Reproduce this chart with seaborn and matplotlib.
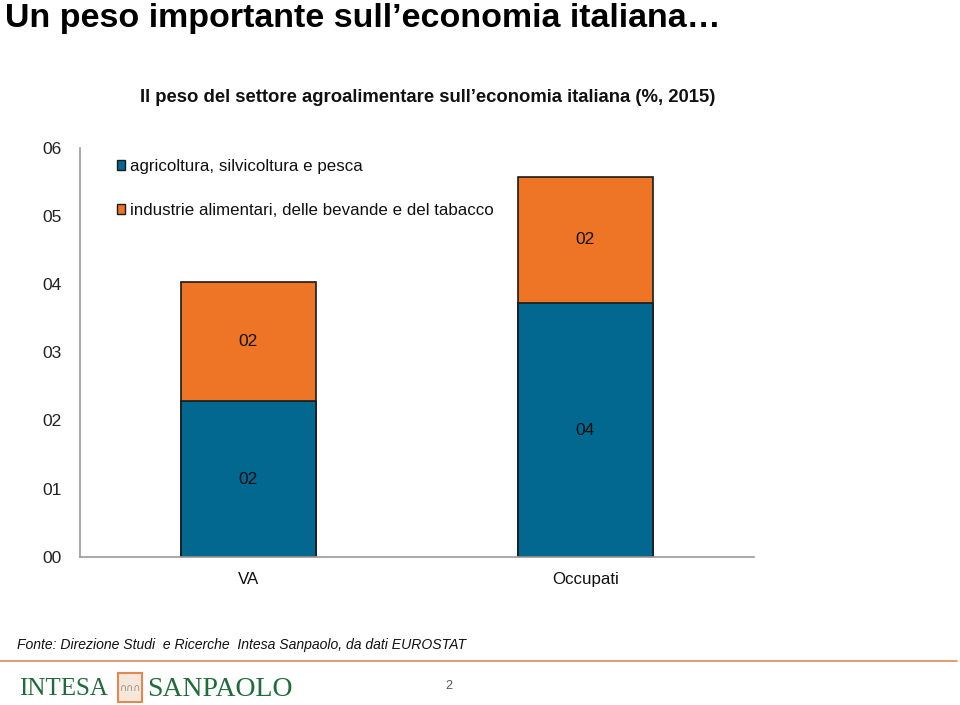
import matplotlib
matplotlib.use("Agg")
import matplotlib.pyplot as plt
import seaborn as sns
import pandas as pd
from matplotlib.patches import Patch, Rectangle
from matplotlib.lines import Line2D

# ---- data ----
categories = ["VA", "Occupati"]
agricoltura = [2.28, 3.72]
industrie = [1.75, 1.85]
series_names = ["agricoltura, silvicoltura e pesca",
                "industrie alimentari, delle bevande e del tabacco"]
y_ticks = [0, 1, 2, 3, 4, 5, 6]
y_tick_labels = ["00", "01", "02", "03", "04", "05", "06"]

title = "Un peso importante sull\u2019economia italiana\u2026"
subtitle = "Il peso del settore agroalimentare sull\u2019economia italiana (%, 2015)"
source = "Fonte: Direzione Studi  e Ricerche  Intesa Sanpaolo, da dati EUROSTAT"

BLUE = "#02688F"
ORANGE = "#EE7426"
EDGE = "#1a1a1a"

sns.set_style("white")
plt.rcParams["font.family"] = ["Liberation Sans", "DejaVu Sans"]

W, H = 960, 705
fig = plt.figure(figsize=(W / 100, H / 100), dpi=100)

def fx(px):
    return px / W

def fy(py):
    return 1 - py / H

ax = fig.add_axes([fx(79.5), fy(557), fx(754) - fx(79.5), fy(147.5) - fy(557)])

df = pd.DataFrame({"cat": categories,
                   "agri": agricoltura,
                   "ind": industrie})
df["total"] = df["agri"] + df["ind"]

sns.barplot(data=df, x="cat", y="total", color=ORANGE, saturation=1,
            width=0.4, edgecolor=EDGE, linewidth=1.2, ax=ax)
sns.barplot(data=df, x="cat", y="agri", color=BLUE, saturation=1,
            width=0.4, edgecolor=EDGE, linewidth=1.2, ax=ax)

# data labels
for i, row in df.iterrows():
    ax.text(i, row["agri"] / 2, f"{row['agri']:02.0f}", ha="center", va="center",
            fontsize=12.5, color="#111111")
    ax.text(i, row["agri"] + row["ind"] / 2, f"{row['ind']:02.0f}", ha="center",
            va="center", fontsize=12.5, color="#111111")

ax.set_xlim(-0.5, 1.5)
ax.set_ylim(0, 6)
ax.set_yticks(y_ticks)
ax.set_yticklabels(y_tick_labels, fontsize=12.5, color="#222222")
ax.set_xticks([0, 1])
ax.set_xticklabels(categories, fontsize=12.2, color="#111111")
ax.set_xticks([-0.5, 0.5, 1.5], minor=True)
ax.tick_params(axis="x", which="major", length=0, pad=11)
ax.tick_params(axis="x", which="minor", length=5, width=1, color="#999999",
               direction="out")
ax.tick_params(axis="y", length=5, width=1, color="#999999", direction="out", pad=8)
ax.set_xlabel("")
ax.set_ylabel("")
for s in ["top", "right"]:
    ax.spines[s].set_visible(False)
for s in ["left", "bottom"]:
    ax.spines[s].set_color("#999999")
    ax.spines[s].set_linewidth(1.2)

handles = [Patch(facecolor=BLUE, edgecolor=EDGE, linewidth=1.0),
           Patch(facecolor=ORANGE, edgecolor=EDGE, linewidth=1.0)]
leg = ax.legend(handles, series_names, loc="upper left",
                bbox_to_anchor=(fx(117), fy(159)), bbox_transform=fig.transFigure,
                frameon=False, fontsize=12.2, handlelength=0.5, handleheight=0.5,
                handletextpad=0.25, labelspacing=1.7, borderpad=0, borderaxespad=0)
for t in leg.get_texts():
    t.set_color("#111111")

# titles
fig.text(fx(5), fy(19), title, fontsize=24.5, fontweight="bold", ha="left",
         va="center", color="black")
fig.text(fx(428), fy(97), subtitle, fontsize=13.3, fontweight="bold", ha="center",
         va="center", color="#111111")

# source and footer
fig.text(fx(17), fy(645), source, fontsize=10.1, style="italic", ha="left",
         va="center", color="#111111")
fig.add_artist(Line2D([0, fx(957)], [fy(661), fy(661)], transform=fig.transFigure,
                      color="#DC8A5A", linewidth=1.2))
GREEN = "#1F6B3A"
fig.text(fx(19), fy(689), "INTESA", fontsize=18, family=["Liberation Serif"],
         color=GREEN, ha="left", va="center")
fig.add_artist(Rectangle((fx(118), fy(702)), fx(142) - fx(118), fy(673) - fy(702),
                         transform=fig.transFigure, facecolor="#F6E7DC",
                         edgecolor="#E08A50", linewidth=1.5))
fig.text(fx(130), fy(688), "\u2229\u2229\u2229", fontsize=7, color="#9a8a80",
         ha="center", va="center", family=["DejaVu Sans"])
fig.text(fx(147), fy(689), "SANPAOLO", fontsize=20, family=["Liberation Serif"],
         color=GREEN, ha="left", va="center")
fig.text(fx(449), fy(686), "2", fontsize=9, color="#555555", ha="center", va="center")

fig.savefig("out.png", dpi=100)
